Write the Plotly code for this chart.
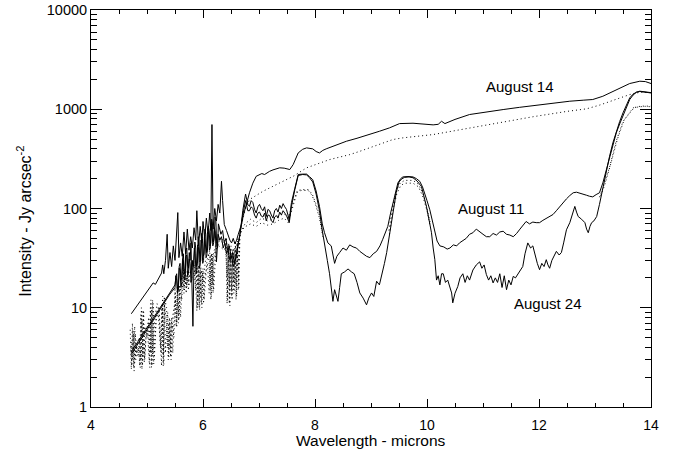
import math
import plotly.graph_objects as go

# ---------------- data (wavelength in microns, intensity in Jy arcsec^-2) ----------------
aug14_solid = [
    (4.72, 8.7), (5.11, 17.8), (5.15, 17.2), (5.26, 22.4), (5.28, 27), (5.30, 22), (5.33, 30), (5.36, 55),
    (5.38, 25), (5.41, 36), (5.44, 26), (5.47, 42), (5.50, 30), (5.52, 48), (5.55, 91), (5.57, 32),
    (5.60, 45), (5.63, 33), (5.66, 58), (5.69, 35), (5.72, 62), (5.75, 38), (5.78, 52), (5.81, 40),
    (5.84, 64), (5.87, 48), (5.89, 95), (5.92, 42), (5.95, 66), (5.98, 45), (6.00, 74), (6.03, 50),
    (6.06, 80), (6.09, 55), (6.12, 90), (6.14, 60), (6.16, 701), (6.18, 62), (6.21, 100), (6.24, 75),
    (6.27, 110), (6.30, 90), (6.33, 188), (6.35, 120), (6.38, 69), (6.42, 60), (6.45, 52), (6.48, 48),
    (6.51, 45), (6.54, 50), (6.57, 44), (6.60, 48), (6.63, 55), (6.66, 62), (6.69, 70), (6.72, 85),
    (6.75, 100), (6.78, 114), (6.83, 144), (6.89, 180), (6.92, 195), (6.95, 211), (7.00, 218), (7.05, 225),
    (7.10, 220), (7.15, 232), (7.19, 237), (7.25, 245), (7.30, 250), (7.37, 257), (7.45, 255), (7.55, 247),
    (7.61, 277), (7.66, 330), (7.70, 363), (7.78, 395), (7.85, 408), (7.96, 399), (8.02, 375), (8.08, 363),
    (8.14, 385), (8.20, 399), (8.35, 430), (8.56, 476), (8.75, 510), (8.98, 556), (9.15, 600), (9.33, 649),
    (9.51, 717), (9.75, 723), (9.95, 705), (10.11, 696), (10.20, 705), (10.26, 757), (10.32, 717),
    (10.50, 790), (10.76, 885), (11.00, 930), (11.36, 993), (11.65, 1045), (11.95, 1097), (12.25, 1150),
    (12.55, 1205), (12.80, 1235), (12.96, 1253), (13.14, 1352), (13.38, 1581), (13.62, 1816), (13.80, 1916),
    (13.90, 1900), (14.00, 1816),
]

aug14_dotted = [
    (4.72, 4.5), (4.74, 3.0), (4.76, 5.5), (4.78, 2.8), (4.81, 4.2), (4.84, 3.2), (4.87, 5.0), (4.89, 3.0),
    (4.91, 7.5), (4.93, 3.2), (4.96, 6.5), (5.00, 5.0), (5.03, 8.0), (5.06, 3.5), (5.08, 9.5), (5.10, 3.4),
    (5.14, 8.0), (5.18, 11), (5.22, 9.0), (5.25, 3.5), (5.27, 10), (5.29, 3.3), (5.31, 11), (5.34, 8.0),
    (5.37, 4.0), (5.39, 7.0), (5.41, 3.8), (5.43, 6.5), (5.47, 9.0), (5.51, 12), (5.53, 7.0), (5.55, 13),
    (5.57, 8.5), (5.59, 14), (5.63, 18), (5.65, 16), (5.67, 22), (5.69, 17), (5.71, 21), (5.73, 18),
    (5.78, 24), (5.84, 26), (5.87, 15), (5.89, 26), (5.91, 12), (5.93, 25), (5.95, 13), (5.97, 24),
    (6.00, 18), (6.05, 32), (6.10, 34), (6.13, 16), (6.15, 35), (6.17, 17), (6.19, 36), (6.24, 45),
    (6.30, 50), (6.36, 48), (6.40, 44), (6.43, 20), (6.45, 40), (6.47, 16), (6.49, 38), (6.51, 15),
    (6.53, 36), (6.55, 18), (6.57, 40), (6.59, 17), (6.61, 45), (6.63, 20), (6.66, 60), (6.70, 75),
    (6.76, 100), (6.83, 123), (7.07, 149), (7.37, 181), (7.61, 211), (7.85, 257), (8.26, 311), (8.62, 349),
    (8.80, 377), (9.39, 495), (9.57, 515), (10.11, 556), (10.50, 610), (10.94, 674), (11.30, 730),
    (11.89, 840), (12.49, 950), (12.85, 1010), (13.08, 1100), (13.38, 1253), (13.62, 1406), (13.80, 1482),
    (14.00, 1470),
]

aug11_solid = [
    (4.72, 3.6), (5.0, 6.3), (5.2, 9.3), (5.4, 14), (5.5, 17), (5.52, 21), (5.53, 22), (5.545, 15),
    (5.56, 17), (5.575, 26), (5.59, 28), (5.605, 19), (5.62, 20), (5.635, 31), (5.65, 35), (5.665, 22),
    (5.68, 24), (5.695, 38), (5.71, 40), (5.725, 27), (5.74, 25), (5.755, 36), (5.77, 30), (5.785, 45),
    (5.80, 22), (5.82, 6.5), (5.84, 30), (5.855, 46), (5.87, 40), (5.885, 26), (5.90, 28), (5.915, 52),
    (5.93, 45), (5.945, 29), (5.96, 30), (5.975, 56), (5.99, 50), (6.005, 33), (6.02, 35), (6.035, 62),
    (6.05, 55), (6.065, 36), (6.08, 38), (6.095, 66), (6.11, 60), (6.125, 42), (6.14, 45), (6.155, 78),
    (6.17, 70), (6.185, 46), (6.20, 50), (6.215, 82), (6.23, 75), (6.245, 42), (6.26, 40), (6.275, 70),
    (6.29, 65), (6.32, 55), (6.35, 60), (6.38, 45), (6.41, 50), (6.44, 38), (6.47, 42), (6.50, 32),
    (6.53, 36), (6.56, 28), (6.59, 32), (6.62, 40), (6.65, 48), (6.68, 65), (6.71, 95), (6.76, 140),
    (6.80, 110), (6.83, 105), (6.86, 120), (6.89, 115), (6.92, 98), (6.95, 90), (6.98, 104), (7.01, 110),
    (7.04, 100), (7.07, 95), (7.10, 104), (7.13, 83), (7.16, 98), (7.19, 95), (7.22, 86), (7.25, 80),
    (7.28, 95), (7.31, 100), (7.34, 92), (7.37, 108), (7.40, 100), (7.43, 112), (7.46, 104), (7.49, 98),
    (7.54, 77), (7.58, 115), (7.64, 160), (7.70, 220),
    (7.78, 222), (7.85, 222), (7.90, 210), (7.96, 195), (8.02, 150), (8.08, 105), (8.13, 70), (8.17, 57),
    (8.23, 45), (8.29, 42), (8.35, 28), (8.39, 33), (8.44, 36), (8.50, 40), (8.56, 38), (8.62, 43),
    (8.68, 41), (8.74, 40), (8.80, 37), (8.86, 35), (8.92, 33), (8.98, 32), (9.04, 35), (9.10, 37),
    (9.16, 42), (9.21, 49), (9.26, 57), (9.30, 66), (9.35, 90), (9.39, 114), (9.44, 150), (9.48, 181),
    (9.53, 200), (9.57, 208), (9.66, 210), (9.75, 208), (9.81, 200), (9.87, 188), (9.92, 165), (9.96, 144),
    (10.00, 120), (10.05, 97), (10.10, 72), (10.14, 57), (10.18, 47), (10.23, 42), (10.30, 41), (10.36, 39),
    (10.41, 40), (10.47, 43), (10.53, 42), (10.58, 45), (10.64, 47), (10.70, 50), (10.76, 55), (10.82, 57),
    (10.88, 62), (10.94, 58), (11.00, 55), (11.06, 52), (11.12, 52), (11.18, 56), (11.24, 54), (11.30, 58),
    (11.36, 59), (11.42, 55), (11.48, 54), (11.54, 52), (11.60, 56), (11.66, 62), (11.71, 68), (11.77, 74),
    (11.83, 70), (11.89, 73), (11.95, 72), (12.01, 72), (12.07, 76), (12.13, 80), (12.19, 84), (12.25, 87),
    (12.31, 95), (12.37, 105), (12.43, 114), (12.49, 125), (12.55, 135), (12.61, 144), (12.67, 146),
    (12.73, 143), (12.79, 141), (12.85, 136), (12.90, 133), (12.96, 131), (13.02, 138), (13.08, 144),
    (13.14, 181), (13.20, 240), (13.26, 311), (13.32, 430), (13.38, 578), (13.44, 710), (13.50, 849),
    (13.56, 1050), (13.62, 1253), (13.68, 1390), (13.74, 1485), (13.80, 1520), (13.88, 1500), (13.94, 1490),
    (14.00, 1470),
]

aug11_dotted = [
    (4.70, 6.0), (4.72, 2.4), (4.74, 7.0), (4.76, 2.5), (4.78, 6.5), (4.80, 3.0), (4.83, 4.5), (4.86, 5.0),
    (4.88, 2.5), (4.90, 10), (4.92, 2.6), (4.94, 9.0), (4.96, 3.0), (4.99, 6.0), (5.02, 7.0), (5.05, 2.5),
    (5.07, 12), (5.09, 2.6), (5.11, 11), (5.13, 3.0), (5.17, 9.0), (5.21, 10), (5.26, 2.6), (5.28, 13),
    (5.30, 2.7), (5.32, 12), (5.35, 10), (5.38, 3.0), (5.40, 8.0), (5.42, 3.2), (5.44, 8.0), (5.46, 3.5),
    (5.50, 16), (5.52, 6.5), (5.54, 16), (5.56, 7.0), (5.58, 17), (5.60, 8.0), (5.64, 26), (5.66, 14),
    (5.68, 25), (5.70, 14), (5.72, 24), (5.74, 15), (5.76, 22), (5.82, 25), (5.88, 28), (5.90, 10),
    (5.92, 27), (5.94, 9.5), (5.96, 26), (5.98, 10), (6.00, 25), (6.02, 12), (6.07, 30), (6.12, 38),
    (6.14, 12), (6.16, 36), (6.18, 14), (6.20, 35), (6.25, 42), (6.30, 48), (6.35, 45), (6.42, 50),
    (6.44, 12), (6.46, 45), (6.48, 10.5), (6.50, 42), (6.52, 12), (6.54, 40), (6.56, 15), (6.58, 45),
    (6.60, 13), (6.62, 50), (6.64, 16), (6.66, 55), (6.70, 62), (6.75, 70), (6.85, 78), (6.95, 72),
    (7.05, 80), (7.15, 75), (7.25, 78), (7.35, 85), (7.45, 88), (7.52, 80), (7.60, 110), (7.68, 150),
    (7.75, 155), (7.88, 155), (7.95, 140), (8.02, 110), (8.08, 85), (8.14, 55), (8.20, None),
    (9.30, None), (9.32, 60), (9.38, 100), (9.45, 150), (9.52, 180), (9.60, 192), (9.75, 192), (9.85, 175),
    (9.93, 140), (10.00, 100), (10.06, 70), (10.10, None),
    (13.00, None), (13.08, 130), (13.14, 160), (13.26, 260), (13.38, 480), (13.50, 750), (13.59, 885),
    (13.68, 1033), (13.80, 1060), (13.90, 1070), (14.00, 1060),
]

aug24_solid = [
    (4.72, 3.4), (5.0, 6.0), (5.2, 9.0), (5.4, 13.5), (5.5, 16), (5.515, 21), (5.53, 19), (5.545, 14),
    (5.56, 15), (5.575, 25), (5.59, 24), (5.605, 16), (5.62, 18), (5.635, 29), (5.65, 30), (5.665, 19),
    (5.68, 20), (5.695, 33), (5.71, 34), (5.725, 21), (5.74, 22), (5.755, 31), (5.77, 28), (5.785, 18),
    (5.80, 19), (5.815, 30), (5.83, 26), (5.845, 40), (5.86, 35), (5.875, 22), (5.89, 24), (5.905, 43),
    (5.92, 40), (5.935, 25), (5.95, 27), (5.965, 48), (5.98, 44), (5.995, 28), (6.01, 30), (6.025, 52),
    (6.04, 48), (6.055, 32), (6.07, 34), (6.085, 58), (6.10, 55), (6.115, 38), (6.13, 40), (6.145, 66),
    (6.16, 62), (6.175, 42), (6.19, 45), (6.205, 64), (6.22, 58), (6.24, 29), (6.27, 55), (6.30, 48),
    (6.33, 52), (6.36, 40), (6.39, 45), (6.42, 35), (6.45, 38), (6.48, 30), (6.51, 33), (6.54, 26),
    (6.57, 29), (6.60, 35), (6.63, 42), (6.66, 55), (6.69, 75), (6.72, 95), (6.76, 120), (6.80, 95),
    (6.83, 95), (6.86, 104), (6.89, 100), (6.92, 86), (6.95, 80), (6.98, 90), (7.01, 92), (7.04, 84),
    (7.07, 82), (7.10, 90), (7.13, 75), (7.16, 86), (7.19, 85), (7.22, 76), (7.25, 72), (7.28, 82),
    (7.31, 85), (7.34, 80), (7.37, 92), (7.40, 86), (7.43, 95), (7.46, 90), (7.49, 85),
    (7.54, 72), (7.58, 105), (7.64, 155), (7.70, 215),
    (7.78, 220), (7.85, 218), (7.90, 205), (7.96, 185), (8.02, 140), (8.08, 95), (8.13, 60), (8.17, 42),
    (8.22, 30), (8.26, 22), (8.29, 16), (8.32, 11.6), (8.35, 15.2), (8.38, 13), (8.41, 11.6), (8.44, 16),
    (8.47, 22), (8.53, 23), (8.59, 24.6), (8.65, 23), (8.70, 22), (8.75, 18), (8.80, 14.1), (8.86, 12.5),
    (8.92, 10.7), (8.96, 12.5), (9.01, 14.1), (9.05, 13), (9.10, 18.5), (9.15, 17), (9.19, 22), (9.24, 28),
    (9.28, 36), (9.32, 50), (9.36, 66), (9.40, 100), (9.45, 144), (9.50, 185), (9.55, 199), (9.60, 206),
    (9.68, 208), (9.75, 204), (9.82, 190), (9.90, 167), (9.95, 130), (9.99, 105), (10.04, 75), (10.08, 57),
    (10.11, 40), (10.14, 30.5), (10.17, 19), (10.20, 21), (10.23, 17), (10.26, 22), (10.29, 22), (10.33, 18),
    (10.37, 19), (10.41, 16), (10.44, 14.1), (10.46, 11.2), (10.50, 14), (10.55, 16.4), (10.59, 20),
    (10.64, 22), (10.68, 18), (10.72, 21), (10.76, 19), (10.82, 24), (10.88, 27), (10.94, 29), (10.98, 25),
    (11.02, 27), (11.06, 21.6), (11.10, 19), (11.14, 21), (11.18, 17.8), (11.22, 20), (11.26, 18),
    (11.30, 22), (11.34, 16), (11.38, 21), (11.42, 15.2), (11.46, 19), (11.50, 17), (11.54, 20.7),
    (11.58, 20), (11.62, 22), (11.67, 24), (11.71, 26), (11.75, 35), (11.80, 45), (11.85, 40), (11.89, 42),
    (11.93, 33), (11.97, 28), (12.01, 24.2), (12.05, 28), (12.09, 26), (12.13, 30.5), (12.16, 27),
    (12.19, 25), (12.23, 30), (12.27, 33), (12.31, 37), (12.36, 34), (12.40, 36), (12.44, 45), (12.49, 61),
    (12.55, 72), (12.60, 90), (12.64, 105), (12.67, 92), (12.70, 83), (12.76, 78), (12.82, 72), (12.85, 62),
    (12.88, 57), (12.91, 66), (12.94, 72), (12.98, 75), (13.03, 83), (13.08, 110), (13.11, 133),
    (13.17, 181), (13.22, 250), (13.26, 336), (13.32, 460), (13.38, 600), (13.44, 750), (13.50, 920),
    (13.56, 1100), (13.62, 1303), (13.68, 1420), (13.74, 1485), (13.80, 1510), (13.88, 1490), (13.94, 1480),
    (14.00, 1460),
]

aug24_dotted = [
    (4.71, 4.0), (4.73, 2.6), (4.75, 6.0), (4.77, 2.3), (4.79, 5.5), (4.82, 3.5), (4.85, 4.0), (4.87, 2.6),
    (4.89, 8.5), (4.91, 2.4), (4.93, 9.5), (4.95, 2.8), (4.98, 5.0), (5.01, 6.0), (5.04, 2.8), (5.06, 10),
    (5.08, 2.5), (5.10, 12), (5.12, 2.7), (5.16, 7.5), (5.20, 9.0), (5.24, 4.0), (5.27, 11), (5.29, 2.6),
    (5.31, 13), (5.33, 3.5), (5.37, 9.0), (5.39, 3.2), (5.41, 7.5), (5.43, 3.0), (5.45, 7.0), (5.48, 5.0),
    (5.51, 14), (5.53, 6.3), (5.55, 15), (5.57, 7.5), (5.59, 16), (5.62, 12), (5.65, 24), (5.67, 15),
    (5.69, 23), (5.71, 16), (5.73, 22), (5.75, 17), (5.80, 20), (5.86, 24), (5.89, 9.3), (5.91, 25),
    (5.93, 10), (5.95, 24), (5.97, 11), (5.99, 23), (6.01, 11), (6.03, 20), (6.08, 28), (6.11, 14),
    (6.13, 34), (6.15, 13), (6.17, 33), (6.19, 15), (6.23, 38), (6.28, 42), (6.33, 40), (6.38, 38),
    (6.41, 45), (6.43, 11), (6.45, 42), (6.47, 11), (6.49, 40), (6.51, 13), (6.53, 38), (6.55, 14),
    (6.57, 40), (6.59, 12), (6.61, 45), (6.63, 15), (6.65, 50), (6.68, 58), (6.74, 65), (6.85, 70),
    (6.95, 66), (7.05, 72), (7.15, 68), (7.25, 70), (7.35, 76), (7.45, 80), (7.52, 72), (7.60, 100),
    (7.68, 145), (7.75, 152), (7.88, 152), (7.95, 135), (8.02, 105), (8.08, 80), (8.14, 52), (8.20, None),
    (9.30, None), (9.33, 55), (9.39, 95), (9.46, 140), (9.53, 170), (9.60, 180), (9.75, 180), (9.85, 165),
    (9.93, 130), (10.00, 95), (10.06, 65), (10.10, None),
    (13.00, None), (13.10, 135), (13.17, 170), (13.28, 280), (13.40, 500), (13.52, 780), (13.62, 930),
    (13.70, 1040), (13.82, 1075), (13.92, 1080), (14.00, 1075),
]

x_ticks = [4, 6, 8, 10, 12, 14]
y_ticks = [1, 10, 100, 1000, 10000]
y_tick_labels = ["1", "10", "100", "1000", "10000"]

labels = [("August 14", 11.655, 1694), ("August 11", 11.15, 100), ("August 24", 12.155, 11.0)]

x_title = "Wavelength - microns"
y_title = "Intensity - Jy arcsec<sup>-2</sup>"

# ---------------- figure ----------------
fig = go.Figure()
series = [
    (aug14_solid, "solid"), (aug14_dotted, "1px,3px"),
    (aug11_solid, "solid"), (aug11_dotted, "1px,3px"),
    (aug24_solid, "solid"), (aug24_dotted, "1px,3px"),
]
for pts, dash in series:
    fig.add_trace(go.Scatter(
        x=[p[0] for p in pts], y=[p[1] for p in pts], mode="lines",
        line=dict(color="black", width=1, dash=dash),
        connectgaps=False, hoverinfo="skip", showlegend=False,
    ))

for text, xv, yv in labels:
    fig.add_annotation(x=xv, y=math.log10(yv), text=text, showarrow=False,
                       font=dict(size=15, color="black"), xanchor="center", yanchor="middle")

# axis titles placed as paper annotations
fig.add_annotation(xref="paper", yref="paper", x=0.5, y=-0.085, text=x_title, showarrow=False,
                   font=dict(size=15.5, color="black"), xanchor="center", yanchor="middle")
fig.add_annotation(xref="paper", yref="paper", x=-0.12, y=0.4685, text=y_title, showarrow=False,
                   textangle=-90, font=dict(size=16, color="black"), xanchor="center", yanchor="middle")

minor_y = [m * 10 ** d for d in range(0, 4) for m in range(2, 10)]

fig.update_layout(
    width=675, height=453,
    margin=dict(l=91, r=24, t=10, b=46),
    paper_bgcolor="white", plot_bgcolor="white",
    font=dict(family="Liberation Sans, Arial, Helvetica, sans-serif", size=14, color="black"),
    showlegend=False,
    xaxis=dict(
        range=[4, 14], tickmode="array", tickvals=x_ticks, automargin=False,
        ticks="inside", ticklen=8, tickwidth=1, tickcolor="black",
        showline=True, linecolor="black", linewidth=1, mirror="ticks",
        showgrid=False, zeroline=False, ticklabelstandoff=5,
        minor=dict(ticks="inside", ticklen=4, tickwidth=1, tickcolor="black", dtick=0.5, tick0=4, showgrid=False),
        tickfont=dict(size=14),
    ),
    yaxis=dict(
        type="log", range=[0, 4], tickmode="array", tickvals=y_ticks, ticktext=y_tick_labels,
        automargin=False,
        ticks="inside", ticklen=11, tickwidth=1, tickcolor="black",
        showline=True, linecolor="black", linewidth=1, mirror="ticks",
        showgrid=False, zeroline=False,
        minor=dict(ticks="inside", ticklen=6, tickwidth=1, tickcolor="black",
                   tickmode="array", tickvals=minor_y, showgrid=False),
        tickfont=dict(size=14.5),
    ),
)

fig.write_html("out.html", config={"displayModeBar": False},
               post_script="document.body.style.margin='0px';")
